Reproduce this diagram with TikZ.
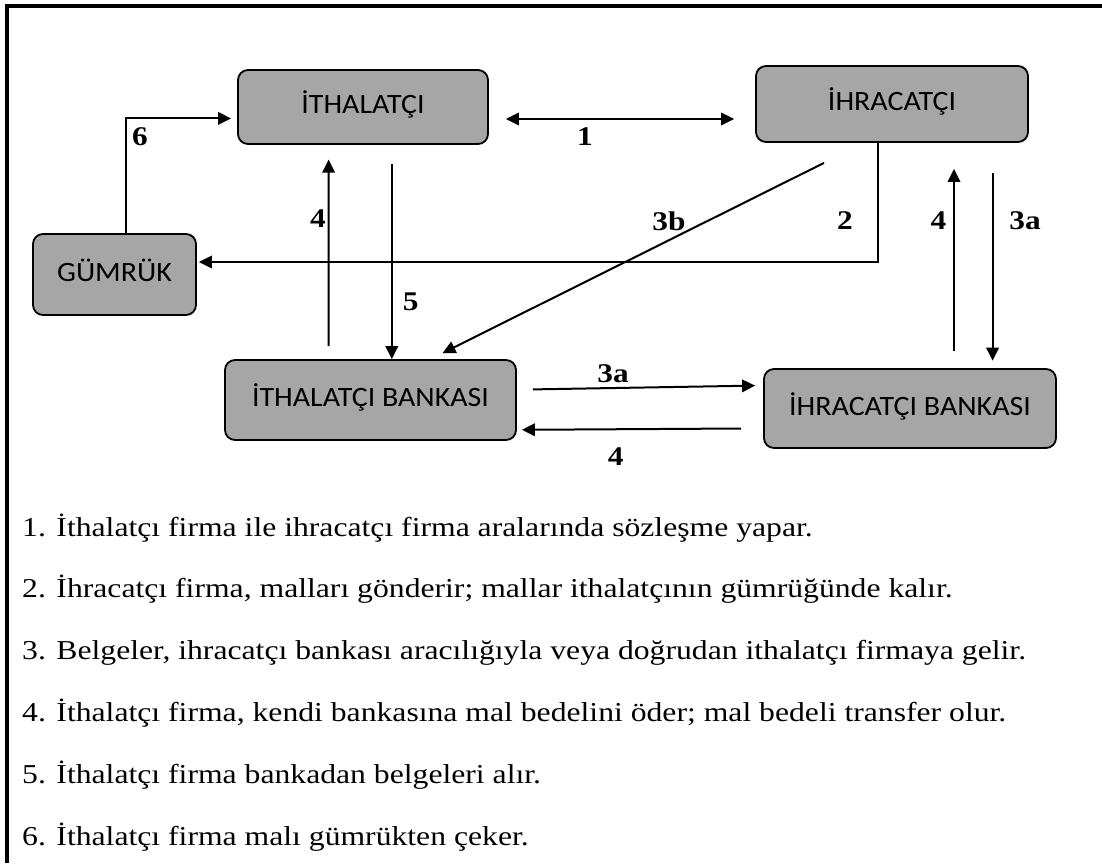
\documentclass[tikz,border=0pt]{standalone}
\usepackage{fontspec}
\setmainfont{Liberation Serif}[FakeStretch=1.16]
\newfontfamily\boxfont{Carlito}[FakeStretch=1.07]
\usetikzlibrary{arrows.meta,calc}
\definecolor{boxgray}{HTML}{A6A6A6}
\begin{document}
\begin{tikzpicture}[x=1pt,y=-1pt,
  flowbox/.style={draw=black, line width=1.8pt, fill=boxgray, rounded corners=10pt,
    font=\boxfont\fontsize{28}{30}\selectfont, text height=20pt, text depth=6.5pt, inner sep=0pt},
  arr/.style={line width=2pt, -{Triangle[length=13pt,width=12.5pt]}},
  num/.style={font=\bfseries\fontsize{27}{30}\selectfont, inner sep=0pt},
  item/.style={font=\fontsize{27.3}{30}\selectfont, anchor=base west, inner sep=0pt}]
\useasboundingbox (0,0) rectangle (1102,863);

% frame
\draw[line width=4pt] (7,863) -- (7,5.5) -- (1102,5.5);

% parties
\node[flowbox, minimum width=250pt, minimum height=74pt] (ith) at (363,107) {İTHALATÇI};
\node[flowbox, minimum width=272pt, minimum height=76pt] (ihr) at (892,104) {İHRACATÇI};
\node[flowbox, minimum width=163pt, minimum height=81pt] (gum) at (114.5,274.5) {GÜMRÜK};
\node[flowbox, minimum width=291pt, minimum height=80pt] (ithb) at (370.5,400) {İTHALATÇI BANKASI};
\node[flowbox, minimum width=292pt, minimum height=79pt] (ihrb) at (910,408.5) {İHRACATÇI BANKASI};

% flows
\draw[arr, {Triangle[length=13pt,width=12.5pt]}-{Triangle[length=13pt,width=12.5pt]}]
  ($(ith.east)+(17,12)$) -- ($(ihr.west)+(-21,15)$);
\draw[arr] ($(gum.north)+(11,0)$) |- ($(ith.west)+(-6,11.4)$);
\draw[arr] ($(ihr.south)+(-14,0)$) |- ($(gum.east)+(2,-12.5)$);
\draw[arr] ($(ihr.south)+(-68,20)$) -- ($(ithb.north)+(72,-6)$);
\draw[arr] ($(ithb.north)+(-42,-13)$) -- ($(ith.south)+(-34.4,14.7)$);
\draw[arr] ($(ith.south)+(28.8,19)$) -- ($(ithb.north)+(21.3,0)$);
\draw[arr] ($(ihrb.north)+(44,-17)$) -- ($(ihr.south)+(62,26)$);
\draw[arr] ($(ihr.south)+(100.6,30.5)$) -- ($(ihrb.north)+(82.6,-7.4)$);
\draw[arr] ($(ithb.east)+(16,-10.6)$) -- ($(ihrb.west)+(-8,-22.9)$);
\draw[arr] ($(ihrb.west)+(-22,20)$) -- ($(ithb.east)+(5,29.8)$);

% step numbers
\node[num] (n6) at (140,137) {6};
\node[num] (n1) at (585,136.7) {1};
\node[num] (n4a) at (318,219) {4};
\node[num] (n5) at (410.6,301.7) {5};
\node[num] (n3b) at (669,221) {3b};
\node[num] (n2) at (845,221) {2};
\node[num] (n4b) at (938.5,221) {4};
\node[num] (n3a) at (1025,221) {3a};
\node[num] (n3c) at (613,374) {3a};
\node[num] (n4c) at (615.6,457) {4};

% legend
\node[item] (l1) at (22,536) {1. İthalatçı firma ile ihracatçı firma aralarında sözleşme yapar.};
\node[item] (l2) at (22,597.8) {2. İhracatçı firma, malları gönderir; mallar ithalatçının gümrüğünde kalır.};
\node[item] (l3) at (22,659.6) {3. Belgeler, ihracatçı bankası aracılığıyla veya doğrudan ithalatçı firmaya gelir.};
\node[item] (l4) at (22,721.4) {4. İthalatçı firma, kendi bankasına mal bedelini öder; mal bedeli transfer olur.};
\node[item] (l5) at (22,783.2) {5. İthalatçı firma bankadan belgeleri alır.};
\node[item] (l6) at (22,845) {6. İthalatçı firma malı gümrükten çeker.};
\end{tikzpicture}
\end{document}
